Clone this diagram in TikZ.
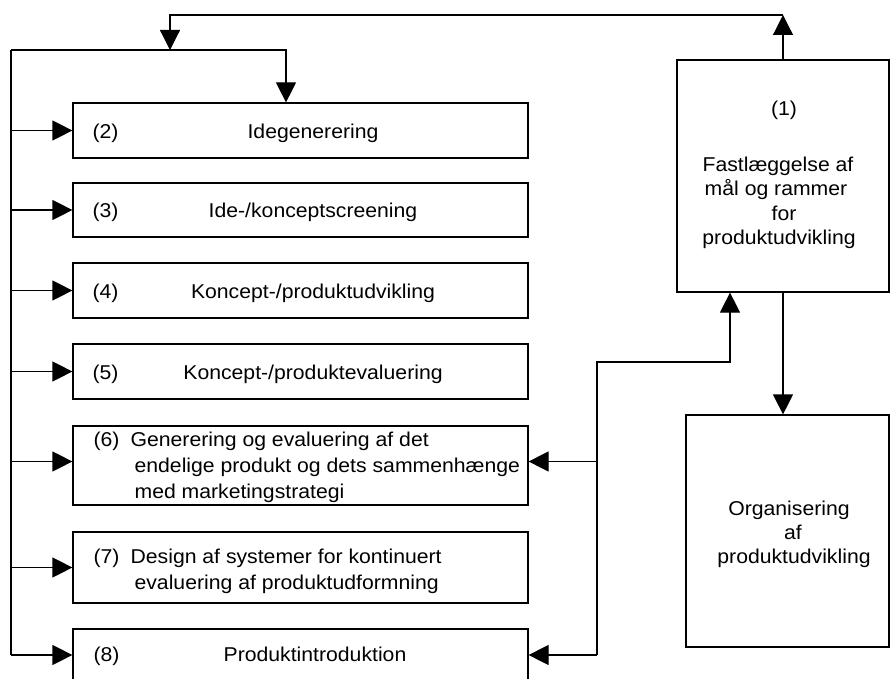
\documentclass[tikz,border=0pt]{standalone}
\usepackage{fontspec}
\setmainfont{Liberation Sans}[FakeStretch=1.06]
\usetikzlibrary{arrows.meta}
\begin{document}
\begin{tikzpicture}[x=1pt,y=-1pt,
  line width=1.2pt,
  >={Triangle[length=20pt,width=20pt]},
  box/.style={draw, rectangle, inner sep=0pt},
  stage/.style={box, minimum width=455pt},
  txt/.style={inner sep=0pt, font=\fontsize{20}{24}\selectfont},
  ]
\useasboundingbox (0,0) rectangle (891,679);
\clip (0,0) rectangle (891,679);

% boxes
\node[box, minimum width=212pt, minimum height=232pt] (b1) at (783,176) {};
\node[stage, minimum height=55pt] (b2) at (300.5,130.5) {};
\node[stage, minimum height=54pt] (b3) at (300.5,210) {};
\node[stage, minimum height=55pt] (b4) at (300.5,290.5) {};
\node[stage, minimum height=55pt] (b5) at (300.5,371.5) {};
\node[stage, minimum height=79pt] (b6) at (300.5,465.5) {};
\node[stage, minimum height=71pt] (b7) at (300.5,567.5) {};
\node[stage, minimum height=52pt] (b8) at (300.5,655) {};
\node[box, minimum width=203pt, minimum height=232pt] (bo) at (787.5,531) {};

% texts
\node[txt, anchor=base] (t1n) at (784,116) {(1)};
\node[txt, anchor=base] (t1a) at (778,172) {Fastlæggelse af};
\node[txt, anchor=base] (t1b) at (776,196) {mål og rammer};
\node[txt, anchor=base] (t1c) at (784,220) {for};
\node[txt, anchor=base] (t1d) at (779,244) {produktudvikling};

\node[txt, anchor=base west] (t2n) at (92,139) {(2)};
\node[txt, anchor=base] (t2) at (313,139) {Idegenerering};
\node[txt, anchor=base west] (t3n) at (92,218) {(3)};
\node[txt, anchor=base] (t3) at (313,218) {Ide-/konceptscreening};
\node[txt, anchor=base west] (t4n) at (92,298) {(4)};
\node[txt, anchor=base] (t4) at (313,298) {Koncept-/produktudvikling};
\node[txt, anchor=base west] (t5n) at (92,379) {(5)};
\node[txt, anchor=base] (t5) at (313,379) {Koncept-/produktevaluering};

\node[txt, anchor=base west] (t6n) at (93,446) {(6)};
\node[txt, anchor=base west] (t6a) at (130,446) {Generering og evaluering af det};
\node[txt, anchor=base west] (t6b) at (134,472) {endelige produkt og dets sammenhænge};
\node[txt, anchor=base west] (t6c) at (134,498) {med marketingstrategi};

\node[txt, anchor=base west] (t7n) at (93,563) {(7)};
\node[txt, anchor=base west] (t7a) at (130,563) {Design af systemer for kontinuert};
\node[txt, anchor=base west] (t7b) at (134,589) {evaluering af produktudformning};

\node[txt, anchor=base west] (t8n) at (93,661) {(8)};
\node[txt, anchor=base] (t8) at (315,661) {Produktintroduktion};

\node[txt, anchor=base] (toa) at (789,515) {Organisering};
\node[txt, anchor=base] (tob) at (793,539) {af};
\node[txt, anchor=base] (toc) at (794,563) {produktudvikling};

% feedback loop over the top
\coordinate (topR) at (783,15);
\coordinate (topL) at (170,50);
\coordinate (busL) at (11,50);
\draw[->] (b1.north) -- (topR);
\draw[->] (topR) -| (topL);

% left bus feeding every stage
\draw (busL) -- (busL |- b8.west);
\draw[->] (busL) -| ([xshift=-14.5pt]b2.north);
\coordinate (w6) at ([yshift=4pt]b6.west);
\foreach \b in {b2,b3,b4,b5,b7,b8}
  \draw[->] (\b.west -| busL) -- (\b.west);
\draw[->] (w6 -| busL) -- (w6);

% right bus back to box (1)
\coordinate (busR) at (597,362);
\coordinate (b1in) at ([xshift=-53pt]b1.south);
\coordinate (e6) at ([yshift=4pt]b6.east);
\draw[->] (b8.east -| busR) |- (b1in |- busR) -- (b1in);
\draw[->] (e6 -| busR) -- (e6);
\draw[->] (b8.east -| busR) -- (b8.east);

% box (1) down to organisation
\draw[->] (b1.south) -- (b1.south |- bo.north);
\end{tikzpicture}
\end{document}
